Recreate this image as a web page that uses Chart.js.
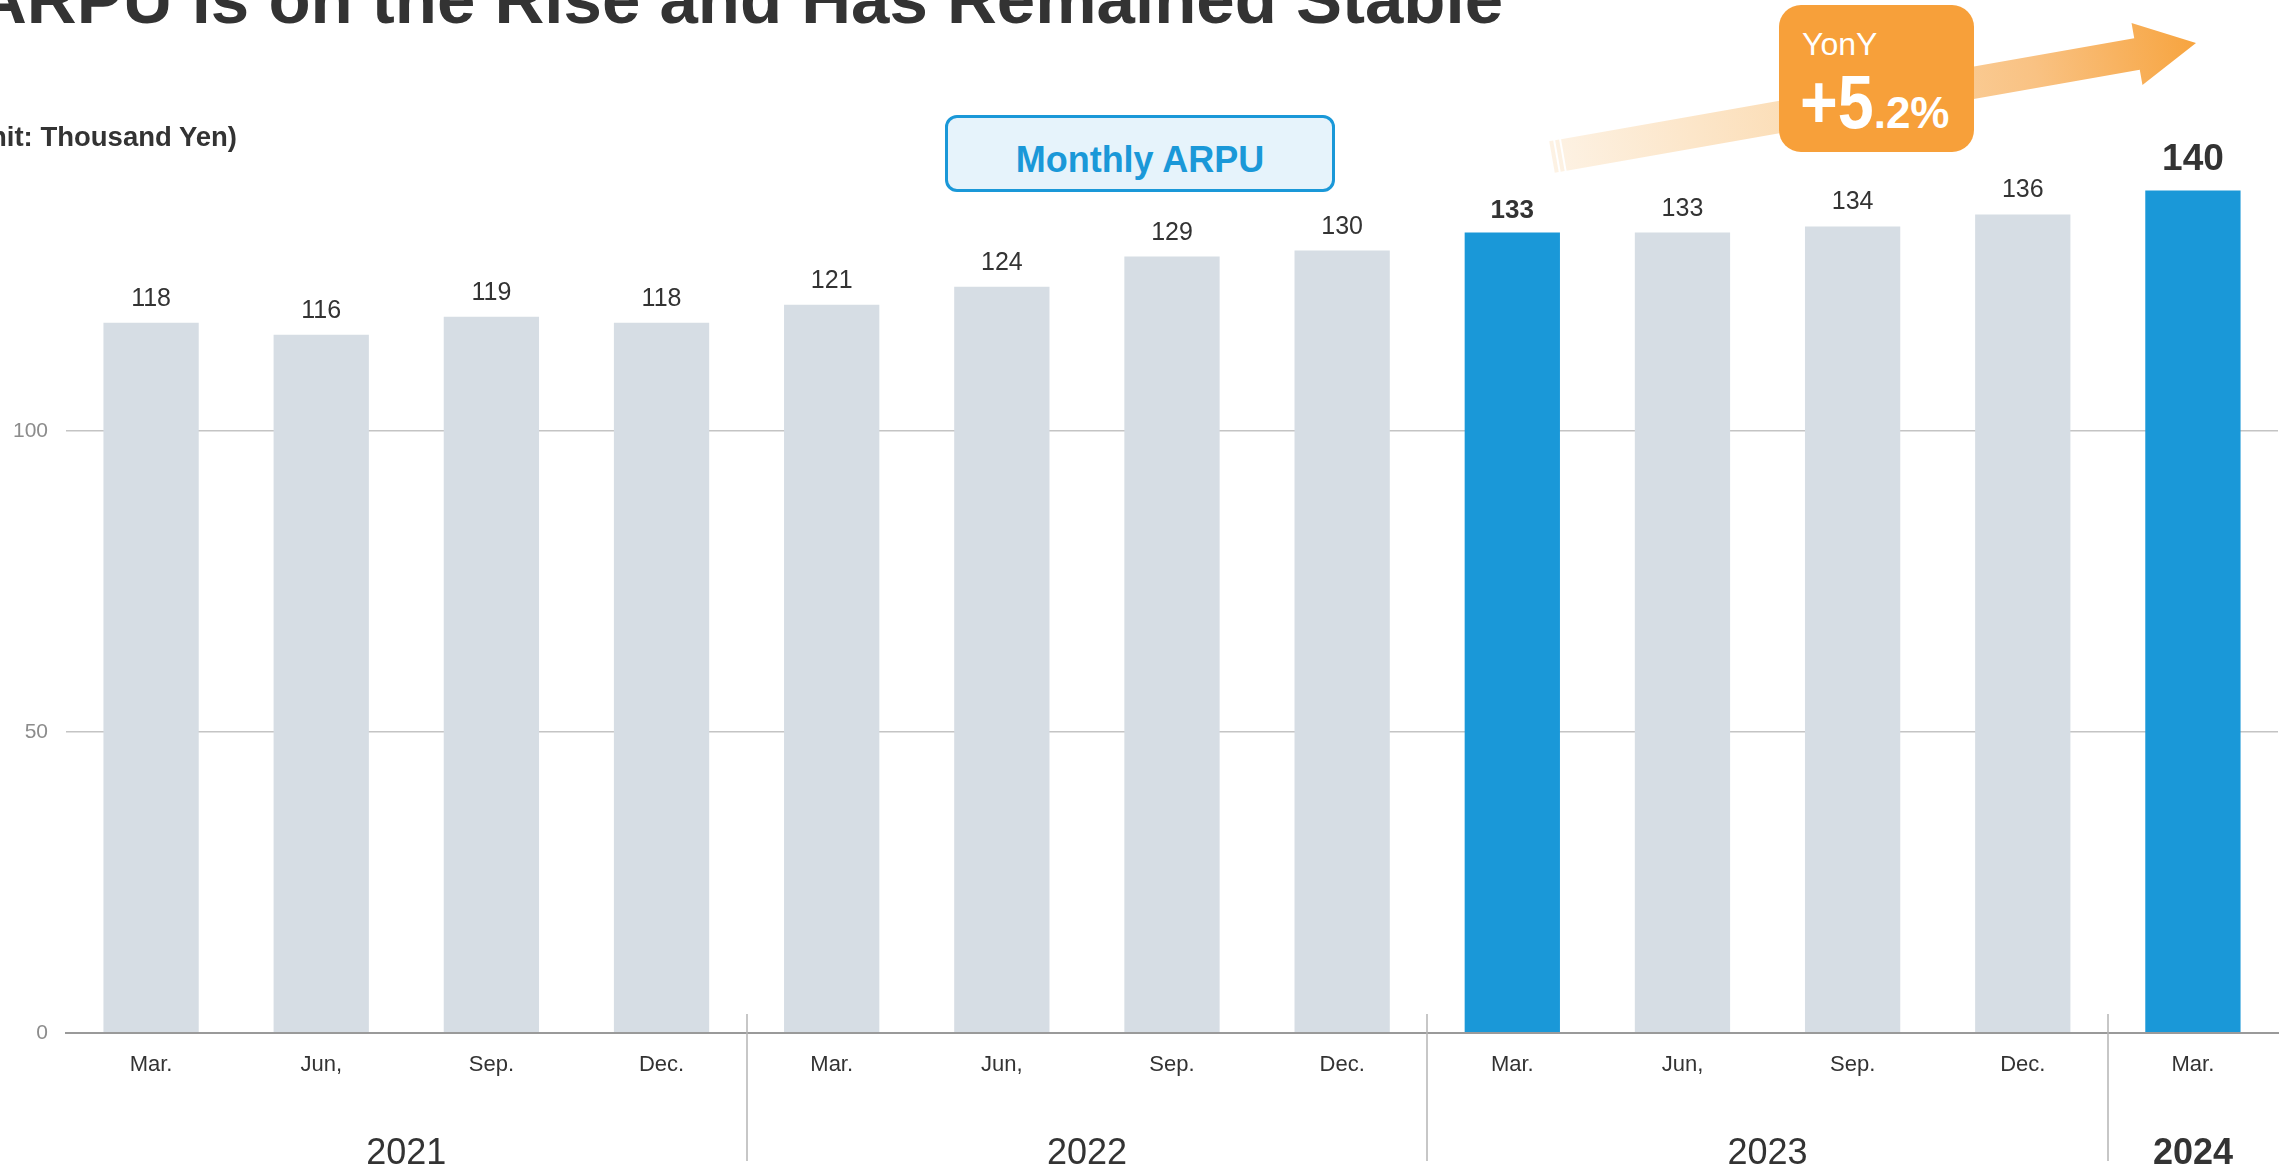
<!DOCTYPE html>
<html>
<head>
<meta charset="utf-8">
<script src="https://cdn.jsdelivr.net/npm/chart.js@4.4.6/dist/chart.umd.min.js"></script>
<style>
  html, body { margin: 0; padding: 0; background: #fff; }
  body { width: 2292px; height: 1168px; position: relative; overflow: hidden;
         font-family: 'Liberation Sans', Arial, sans-serif; }
  #chart { position: absolute; left: 0; top: 0; }
  .title { position: absolute; left: -23px; top: -35px; font-size: 69px; font-weight: bold;
           color: #333; white-space: nowrap; line-height: 1; }
  .unit { position: absolute; right: 2055px; top: 123px; font-size: 27.5px; font-weight: bold;
          color: #333; white-space: nowrap; line-height: 1; }
  .series-tag { position: absolute; left: 945px; top: 115px; width: 390px; height: 77px;
                box-sizing: border-box; border: 3px solid #1a98d8; border-radius: 12px;
                background: #e6f3fb; color: #1a98d8; font-size: 36px; font-weight: bold;
                text-align: center; line-height: 71px; padding-top: 6px; }
  .yoy { position: absolute; left: 1779px; top: 5px; width: 195px; height: 147px;
         border-radius: 22px; background: #f7a03a; color: #fff; }
  .yoy .lbl { position: absolute; left: 23px; top: 23px; font-size: 32px; line-height: 1; }
  .yoy .val { position: absolute; left: 21px; top: 59px; font-size: 76px; font-weight: bold;
              line-height: 1; white-space: nowrap; }
  .yoy .big { display: inline-block; transform: scaleX(0.85); transform-origin: left; margin-right: -13px; }
  .yoy .small { font-size: 44px; }
</style>
</head>
<body>
<canvas id="chart" width="2292" height="1168"></canvas>
<div class="title">ARPU is on the Rise and Has Remained Stable</div>
<div class="unit">(Unit: Thousand Yen)</div>
<div class="series-tag">Monthly ARPU</div>
<div class="yoy">
  <div class="lbl">YonY</div>
  <div class="val"><span class="big">+5</span><span class="small">.2%</span></div>
</div>
<script>
// Quarterly monthly ARPU, thousand yen
const quarters = ['Mar.', 'Jun,', 'Sep.', 'Dec.', 'Mar.', 'Jun,', 'Sep.', 'Dec.', 'Mar.', 'Jun,', 'Sep.', 'Dec.', 'Mar.'];
const fiscalYears = ['2021', '2021', '2021', '2021', '2022', '2022', '2022', '2022', '2023', '2023', '2023', '2023', '2024'];
const arpu = [118, 116, 119, 118, 121, 124, 129, 130, 133, 133, 134, 136, 140];
const highlighted = [8, 12]; // Mar. 2023 vs Mar. 2024
const yTicks = [0, 50, 100];

const FONT = "'Liberation Sans', Arial, sans-serif";
const BLUE = '#1a98d8';
const GREY = '#d6dde4';

Chart.defaults.font.family = FONT;

// value above each bar; the compared quarters in bold, the latest one larger
const barValues = {
  id: 'barValues',
  afterDatasetsDraw(chart) {
    const { ctx } = chart;
    const meta = chart.getDatasetMeta(0);
    ctx.save();
    ctx.textAlign = 'center';
    ctx.textBaseline = 'alphabetic';
    ctx.fillStyle = '#333';
    meta.data.forEach((bar, i) => {
      const latest = i === arpu.length - 1;
      const bold = highlighted.includes(i);
      const size = latest ? 37 : bold ? 26 : 25;
      ctx.font = `${bold ? 'bold ' : ''}${size}px ${FONT}`;
      ctx.fillText(String(arpu[i]), bar.x, bar.y - (latest ? 20 : bold ? 15 : 17));
    });
    ctx.restore();
  },
};

// year captions under the quarter labels, with dividers between years
const yearBands = {
  id: 'yearBands',
  afterDraw(chart) {
    const { ctx, chartArea } = chart;
    const x = chart.scales.x;
    const groups = [];
    fiscalYears.forEach((y, i) => {
      const g = groups[groups.length - 1];
      if (g && g.year === y) g.to = i;
      else groups.push({ year: y, from: i, to: i });
    });
    ctx.save();
    ctx.strokeStyle = '#b5b5b5';
    ctx.lineWidth = 1.5;
    ctx.textAlign = 'center';
    ctx.fillStyle = '#333';
    groups.forEach((g, k) => {
      if (k > 0) {
        const sx = Math.round((x.getPixelForValue(g.from - 1) + x.getPixelForValue(g.from)) / 2);
        ctx.beginPath();
        ctx.moveTo(sx, chartArea.bottom - 19);
        ctx.lineTo(sx, chartArea.bottom + 128);
        ctx.stroke();
      }
      const cx = (x.getPixelForValue(g.from) + x.getPixelForValue(g.to)) / 2;
      const latest = k === groups.length - 1;
      ctx.font = `${latest ? 'bold ' : ''}36px ${FONT}`;
      ctx.fillText(g.year, cx, chartArea.bottom + 131);
    });
    ctx.restore();
  },
};

// fading growth arrow behind the YonY badge
const trendArrow = {
  id: 'trendArrow',
  afterDraw(chart) {
    const { ctx } = chart;
    const tail = [1552, 157], head = [2137, 54], tip = [2196, 43];
    const h = 16, H = 31.5;
    const L = Math.hypot(head[0] - tail[0], head[1] - tail[1]);
    const u = [(head[0] - tail[0]) / L, (head[1] - tail[1]) / L];
    const n = [-u[1], u[0]];
    const at = (s, w) => [tail[0] + u[0] * s + n[0] * w, tail[1] + u[1] * s + n[1] * w];

    const grad = ctx.createLinearGradient(tail[0], tail[1], tip[0], tip[1]);
    grad.addColorStop(0, '#fdf2e4');
    grad.addColorStop(0.45, '#fbd9ad');
    grad.addColorStop(0.75, '#f9c283');
    grad.addColorStop(1, '#f7a43f');

    const poly = (pts) => {
      ctx.beginPath();
      pts.forEach((p, i) => (i ? ctx.lineTo(p[0], p[1]) : ctx.moveTo(p[0], p[1])));
      ctx.closePath();
      ctx.fill();
    };

    ctx.save();
    ctx.fillStyle = grad;
    poly([at(0, -h), at(4, -h), at(4, h), at(0, h)]);
    poly([at(6, -h), at(10, -h), at(10, h), at(6, h)]);
    poly([at(12, -h), at(L, -h), at(L, -H), tip, at(L, H), at(L, h), at(12, h)]);
    ctx.restore();
  },
};

new Chart(document.getElementById('chart'), {
  type: 'bar',
  data: {
    labels: quarters,
    datasets: [{
      data: arpu,
      backgroundColor: arpu.map((_, i) => (highlighted.includes(i) ? BLUE : GREY)),
      barPercentage: 0.56,
      categoryPercentage: 1,
    }],
  },
  options: {
    responsive: false,
    animation: false,
    devicePixelRatio: 1,
    layout: { padding: { top: 70, right: 14, left: 0, bottom: 0 } },
    plugins: { legend: { display: false }, tooltip: { enabled: false } },
    scales: {
      x: {
        grid: { display: false },
        border: { color: '#9a9a9a', width: 2 },
        ticks: { color: '#333', font: { size: 22 }, padding: 11, maxRotation: 0, autoSkip: false },
        afterFit: (s) => { s.height = 135; },
      },
      y: {
        min: 0,
        max: 160,
        afterBuildTicks: (s) => { s.ticks = yTicks.map((v) => ({ value: v })); },
        grid: {
          drawTicks: false,
          color: (c) => (c.tick && c.tick.value === 0 ? '#9a9a9a' : '#c4c4c4'),
          lineWidth: (c) => (c.tick && c.tick.value === 0 ? 2 : 1.5),
        },
        border: { display: false },
        ticks: { color: '#8c8c8c', font: { size: 21 }, padding: 18 },
        afterFit: (s) => { s.width = 66; },
      },
    },
  },
  plugins: [barValues, yearBands, trendArrow],
});
</script>
</body>
</html>
